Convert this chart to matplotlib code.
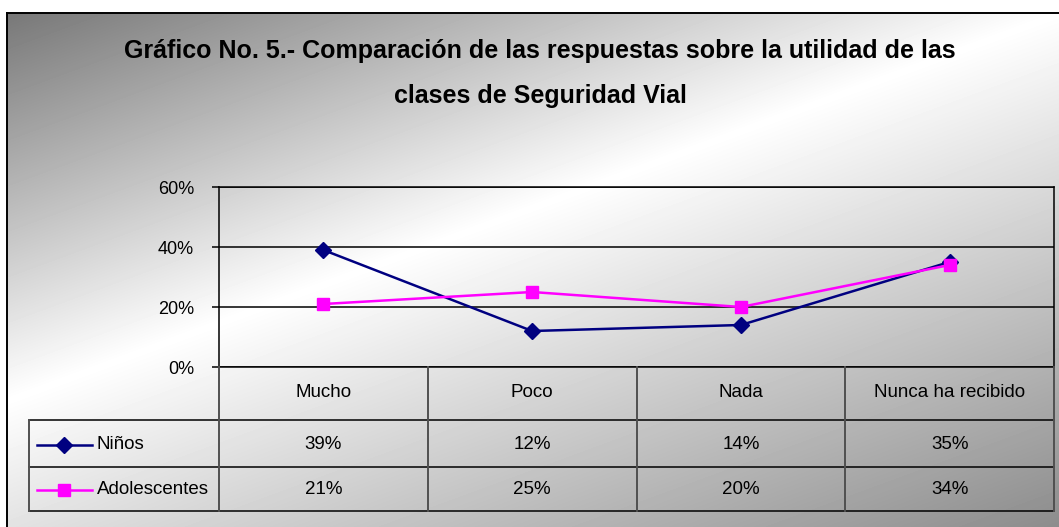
import numpy as np
import matplotlib
matplotlib.use('Agg')
import matplotlib.pyplot as plt

# ---- data ----
title_lines = ["Gráfico No. 5.- Comparación de las respuestas sobre la utilidad de las",
               "clases de Seguridad Vial"]
categories = ["Mucho", "Poco", "Nada", "Nunca ha recibido"]
series_names = ["Niños", "Adolescentes"]
ninos = [0.39, 0.12, 0.14, 0.35]
adolescentes = [0.21, 0.25, 0.20, 0.34]
yticks = [0.0, 0.2, 0.4, 0.6]
ytick_labels = ["0%", "20%", "40%", "60%"]

# ---- styling ----
FONT = ['Liberation Sans', 'DejaVu Sans']
plt.rcParams['font.family'] = FONT
colors = ['#000080', '#FF00FF']
markers = ['D', 's']
msizes = [8.5, 8.5]
TXT = 13.5

W, H = 1059, 527
fig = plt.figure(figsize=(W / 100, H / 100), dpi=100)

# background (pixel coordinates)
bg = fig.add_axes([0, 0, 1, 1], zorder=0)
bg.set_xlim(0, W); bg.set_ylim(H, 0); bg.axis('off')
fx0, fy0 = 7, 13
yy, xx = np.mgrid[fy0:H, fx0:W]
s = (xx - fx0) / (W - fx0) + (yy - fy0) / 387.0
smax = s.max()
val = np.where(s <= 1, 1 - 0.53 * (1 - s), 1 - 0.45 * (s - 1) / (smax - 1))
bg.imshow(val, cmap='gray', vmin=0, vmax=1, extent=(fx0, W, H, fy0),
          aspect='auto', interpolation='bilinear')
bg.plot([fx0, W], [fy0, fy0], color='black', lw=1.4)
bg.plot([fx0, fx0], [fy0, H], color='black', lw=1.4)

# title
bg.text(540, 51, title_lines[0], ha='center', va='center', fontsize=18,
        fontweight='bold', color='black')
bg.text(540, 96, title_lines[1], ha='center', va='center', fontsize=18,
        fontweight='bold', color='black')

# plot axes
x_left, x_right, y_top, y_bot = 219, 1054, 187, 367
ax = fig.add_axes([x_left / W, 1 - y_bot / H, (x_right - x_left) / W, (y_bot - y_top) / H], zorder=2)
ax.patch.set_alpha(0)
n = len(categories)
xs = np.arange(n)
ax.set_xlim(-0.5, n - 0.5)
ax.set_ylim(0, 0.6)
ax.set_yticks(yticks, ytick_labels)
ax.set_xticks([])
ax.yaxis.grid(True, color='black', lw=1.1)
ax.set_axisbelow(True)
for sp in ax.spines.values():
    sp.set_color('black'); sp.set_linewidth(1.1)
ax.tick_params(axis='y', direction='out', length=5, width=1.1, labelsize=13, pad=13)

for vals, c, m, ms in zip([ninos, adolescentes], colors, markers, msizes):
    ax.plot(xs, vals, color=c, lw=1.8, marker=m, ms=ms, mfc=c, mec=c, clip_on=False, zorder=3)

# data table (pixel coords)
ov = fig.add_axes([0, 0, 1, 1], zorder=3)
ov.set_xlim(0, W); ov.set_ylim(H, 0); ov.axis('off')
col_w = (x_right - x_left) / n
edges = [x_left + i * col_w for i in range(n + 1)]
row_y = [y_bot, 420, 467, 511]
leg_left = 29
for y in row_y[1:]:
    ov.plot([leg_left, x_right], [y, y], color='black', lw=1.1)
for i, x in enumerate(edges):
    ov.plot([x, x], [y_bot, row_y[-1]], color='#505050', lw=1.4)
ov.plot([leg_left, leg_left], [row_y[1], row_y[-1]], color='#505050', lw=1.4)

for i, cat in enumerate(categories):
    ov.text((edges[i] + edges[i + 1]) / 2, (row_y[0] + row_y[1]) / 2 - 1, cat,
            ha='center', va='center', fontsize=TXT)
for r, (name, vals, c, m, ms) in enumerate(zip(series_names, [ninos, adolescentes], colors, markers, msizes)):
    yc = (row_y[r + 1] + row_y[r + 2]) / 2 + 1
    ov.plot([37, 92], [yc, yc], color=c, lw=1.8)
    ov.plot([64], [yc], marker=m, ms=ms, color=c)
    ov.text(97, yc, name, ha='left', va='center', fontsize=TXT)
    for i, vv in enumerate(vals):
        ov.text((edges[i] + edges[i + 1]) / 2, yc, f"{round(vv * 100):d}%",
                ha='center', va='center', fontsize=TXT)

fig.savefig('out.png', dpi=100)
